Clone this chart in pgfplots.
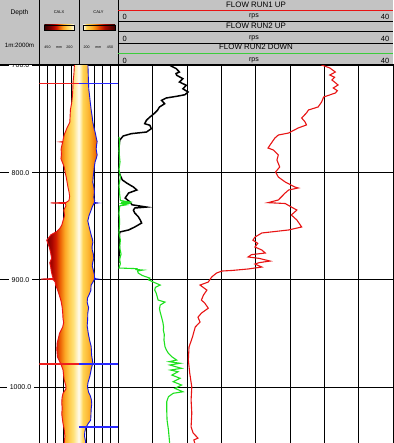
\documentclass[border=0pt]{standalone}
\usepackage{fontspec}
\setmainfont{Liberation Sans}
\usepackage{pgfplots}
\pgfplotsset{compat=1.18}
\usepackage{pgfplotstable}

\definecolor{hdr}{RGB}{195,195,195}
\definecolor{cred}{RGB}{232,20,20}
\definecolor{mred}{RGB}{240,30,30}
\definecolor{mblue}{RGB}{40,40,255}
\definecolor{cgreen}{RGB}{30,225,30}
\definecolor{hgreen}{RGB}{60,205,60}
\definecolor{cblue}{RGB}{20,20,220}
% CALX colour scale
\definecolor{x0}{RGB}{50,0,0}
\definecolor{x1}{RGB}{120,0,0}
\definecolor{x2}{RGB}{170,5,0}
\definecolor{x3}{RGB}{210,30,0}
\definecolor{x4}{RGB}{235,95,5}
\definecolor{x5}{RGB}{252,165,35}
\definecolor{x6}{RGB}{255,205,80}
\definecolor{x7}{RGB}{255,225,120}
\definecolor{x8}{RGB}{255,240,190}
\definecolor{x9}{RGB}{255,250,235}
% CALY colour scale
\definecolor{y0}{RGB}{255,250,235}
\definecolor{y1}{RGB}{255,235,170}
\definecolor{y2}{RGB}{255,212,85}
\definecolor{y3}{RGB}{253,190,60}
\definecolor{y4}{RGB}{250,165,30}
\definecolor{y5}{RGB}{240,120,10}
\definecolor{y6}{RGB}{220,60,0}
\definecolor{y7}{RGB}{170,10,0}
\definecolor{y8}{RGB}{60,0,0}

\pgfdeclarehorizontalshading{calxsh}{100bp}{color(0bp)=(x0); color(25bp)=(x0); color(35bp)=(x1); color(41bp)=(x2); color(46bp)=(x3); color(51bp)=(x4); color(57bp)=(x5); color(63bp)=(x6); color(68bp)=(x7); color(72bp)=(x8); color(75bp)=(x9); color(100bp)=(x9)}
\pgfdeclarehorizontalshading{calysh}{100bp}{color(0bp)=(y0); color(25bp)=(y0); color(27.4bp)=(y1); color(30bp)=(y2); color(35bp)=(y3); color(40bp)=(y4); color(45bp)=(y5); color(51bp)=(y6); color(59bp)=(y7); color(75bp)=(y8); color(100bp)=(y8)}

\pgfplotstableread{
depth calx
696.0 227
700 228
708 231
715 236
722 238
728 240
735 245
741 253
747 255
753 257
758 274
762 285
764 291
768 298
771.0 301
771.3 318
771.6 302
775 308
778 312
783 310
787 313
791 302
795 292
799.4 287
804 280
809 274
814 268
818 262
822 258
826 262
827.8 280
828.3 378
828.8 285
831 282
835 295
840 290
845 300
849 308
852 320
855 340
858 377
861 392
863 403
866 396
870 386
875 378
880 372
884 384
888 378
892 374
896 368
898.8 362
899.3 440
899.8 362
902 350
905 346
910 333
915 322
920 312
926 305
931 302
936 300
940 296
944 302
950 322
955 330
959 337
965 339
972 335
976 322
980 310
984 300
988 297
993 293
999 282
1002 282
1006 300
1010 306
1015 308
1020 305
1025 308
1030 304
1034 300
1040 292
1046 288
1052 292
1056 292
}\calx

\pgfplotstableread{
depth caly
696.0 257
705 259
715 261
722 263
728 268
735 273
741 278
747 284
753 289
758 296
762 303
767 310
771 316
775 312
778 310
783.5 316
787 310
790 303
795 298
799.4 295
804 291
809 289
814 296
818 299
823 295
826 300
827.8 298
828.3 322
828.8 296
832 285
835 278
840 265
845 257
849 263
852 268
858 278
862 286
865 289
869 284
872 285
876 292
880 295
884 288
887 285
891 292
895 299
898.8 300
899.3 322
899.8 298
902 290
905 278
910 276
914 265
917 255
921 253
926 262
931 257
937 256
943 253
950 260
956 268
962 278
966 280
970 281
974 285
977.7 289
981 283
984 278
990 270
996 258
1000 255
1005 262
1008 272
1012 280
1016 282
1021 278
1026 277
1031 275
1034 260
1038 245
1042 238
1046 236
1050 242
1056 246
}\caly

\pgfplotstableread{
depth rps
697.0 29.0
699.5 29.6
702.3 30.8
706.1 31.6
708.9 30.8
711.0 31.5
713.5 31.1
716.0 31.6
718.2 32.0
721.0 31.3
723.5 31.9
725.7 31.6
729.4 29.9
734.1 29.6
738.7 29.1
741.5 27.7
744.3 27.4
749.0 26.7
752.7 27.2
755.5 27.4
758.3 26.2
763.0 24.8
764.9 23.3
767.7 22.8
772.3 22.3
777.0 21.8
778.9 22.6
783.5 23.3
788.2 23.1
794.7 23.5
799.4 22.9
804.1 23.3
808.7 24.3
813.4 25.7
814.3 26.2
816.2 24.8
819.0 24.3
825.5 23.3
828.0 21.8
828.8 24.3
832.1 25.2
834.9 26.0
839.5 25.2
844.2 26.0
850.7 26.7
853.5 24.8
856.3 20.9
860.1 19.9
863.0 19.6
866.0 20.3
869.4 19.9
872.2 20.9
875.0 21.4
876.5 19.4
878.7 18.9
880.0 20.5
882.5 22.1
884.0 20.5
885.3 19.9
888.1 20.9
889.9 18.9
891.3 16.5
891.8 15.1
893.7 14.3
897.4 13.6
902.1 13.1
904.9 11.9
909.6 12.9
914.3 12.4
918.9 12.1
921.8 12.6
926.5 13.1
931.1 12.1
934.9 11.6
939.4 11.9
944.1 11.2
953.4 10.8
962.7 10.3
974.9 10.2
987.0 10.4
1000.0 10.7
1012.2 10.6
1024.3 10.7
1037.4 10.6
1043.0 10.9
1047.7 11.6
1049.5 11.0
1054.0 11.2
}\runone

\pgfplotstableread{
depth rps
697.5 7.0
699.8 7.5
703.0 8.45
706.1 8.9
707.5 8.4
709.1 8.5
712.3 9.4
715.4 8.9
718.5 9.9
721.7 9.4
724.7 10.15
727.3 9.7
728.8 8.45
730.3 7.0
732.5 6.3
735.7 6.75
738.7 6.0
741.8 5.7
745.0 5.2
748.1 4.6
751.1 4.1
754.3 3.85
755.8 4.6
759.0 4.8
762.1 4.1
763.6 1.9
765.8 0.7
769.8 0.2
776.0 0.1
785.0 0.05
797.5 0.0
803.0 0.3
806.9 0.6
810.0 1.3
813.4 2.2
816.2 2.7
819.0 1.5
823.7 1.0
827.4 1.7
830.0 2.0
832.1 4.1
833.0 2.4
835.0 2.2
837.7 2.4
841.0 2.9
844.2 3.2
847.0 3.4
850.7 2.4
853.5 1.5
855.4 0.2
862.9 0.1
870.0 0.15
878.0 0.1
884.3 0.1
}\runtwoup

\pgfplotstableread{
depth rps
766.7 0.1
772.0 0.2
780.0 0.1
790.0 0.25
797.0 0.1
804.0 0.3
812.0 0.1
820.0 0.2
826.0 0.3
827.2 1.5
827.8 0.4
828.4 1.9
829.0 0.5
830.0 1.2
831.0 0.2
838.0 0.1
845.0 0.2
856.0 0.1
863.0 0.3
870.0 0.2
876.0 0.4
881.0 0.2
885.0 0.3
889.0 0.1
889.6 2.7
890.4 2.6
890.9 3.6
891.8 2.8
893.7 2.9
896.0 3.5
898.4 4.6
900.0 4.4
902.1 5.1
904.9 6.1
907.0 5.4
909.6 5.3
912.0 5.5
914.3 5.6
918.9 5.8
920.8 6.8
923.6 6.1
927.0 6.0
930.2 6.1
934.9 6.3
940.0 6.5
944.1 6.6
946.8 6.55
951.0 6.7
956.2 6.65
962.4 6.8
965.5 7.0
968.6 7.3
971.8 7.8
974.9 8.5
976.4 7.4
977.9 9.0
979.5 7.5
982.6 9.2
984.2 7.6
985.8 8.7
988.9 7.8
991.9 9.0
995.1 8.0
998.2 9.2
1001.3 8.25
1004.5 9.4
1005.9 8.0
1009.1 7.3
1013.8 7.05
1021.5 7.05
1030.9 7.1
1040.0 7.3
1047.0 7.4
1054.0 7.5
}\runtwodown

\pgfplotsset{logtrack/.style={anchor=south west, scale only axis,
  height=379pt, ymin=698.6, ymax=1052.3, y dir=reverse,
  major tick length=0pt, grid style={black, line width=0.7pt}}}

\begin{document}
\begin{tikzpicture}
\useasboundingbox (0pt,0pt) rectangle (393pt,443pt);
\fill[white] (0pt,0pt) rectangle (393pt,443pt);

% depth track
\begin{axis}[logtrack, at={(0pt,0pt)}, width=39.3pt,
  xmin=0, xmax=1,
  axis line style={draw=none}, xtick=\empty,
  ytick={700,800,900,1000}, ymajorgrids,
  yticklabel style={font=\fontsize{7}{8}\selectfont, fill=white,
    inner xsep=2.5pt, inner ysep=1pt, anchor=center, xshift=20.5pt,
    /pgf/number format/fixed, /pgf/number format/fixed zerofill,
    /pgf/number format/precision=1, /pgf/number format/1000 sep={},
    /pgf/number format/assume math mode=true}]
\addplot[draw=none] coordinates {(0.5,700)};
\end{axis}

% caliper tracks
\begin{axis}[logtrack, at={(39.3pt,0pt)}, width=79pt,
  xmin=-250, xmax=250,
  xtick={-250,-200,...,250}, ytick={700,800,900,1000},
  xticklabels={}, yticklabels={}, grid=major,
  axis line style={black, line width=0.8pt}]
\addplot[draw=none, shade, shading=calxsh] table[x expr={200-\thisrow{calx}}, y=depth] {\calx}
  -- (axis cs:0,1060) -- (axis cs:0,690) -- (axis cs:-250,690) -- cycle;
\addplot[draw=none, shade, shading=calysh] table[x expr={\thisrow{caly}-200}, y=depth] {\caly}
  -- (axis cs:0,1060) -- (axis cs:0,690) -- (axis cs:250,690) -- cycle;
\addplot[cred, line width=0.9pt] table[x expr={200-\thisrow{calx}}, y=depth] {\calx};
\addplot[cblue, line width=0.9pt] table[x expr={\thisrow{caly}-200}, y=depth] {\caly};
\addplot[mred, line width=1.4pt] coordinates {(-250,717.0) (0,717.0)};
\addplot[mblue, line width=1.4pt] coordinates {(0,717.0) (250,717.0)};
\addplot[mred, line width=1.4pt] coordinates {(-250,978.6) (0,978.6)};
\addplot[mblue, line width=1.4pt] coordinates {(0,978.6) (250,978.6)};
\addplot[mblue, line width=1.4pt] coordinates {(0,1037.4) (250,1037.4)};
\end{axis}

% flow track
\begin{axis}[logtrack, at={(118.3pt,0pt)}, width=274.7pt,
  xmin=0, xmax=40,
  xtick={0,5,...,40}, ytick={700,800,900,1000},
  xticklabels={}, yticklabels={}, grid=major,
  axis line style={black, line width=0.8pt}]
\addplot[cred, line width=1.1pt] table[x=rps, y=depth] {\runone};
\addplot[black, line width=1.5pt] table[x=rps, y=depth] {\runtwoup};
\addplot[cgreen, line width=1.1pt] table[x=rps, y=depth] {\runtwodown};
\end{axis}

% header
\begin{scope}[x=1pt,y=1pt]
\fill[hdr] (0,379) rectangle (393,443);
\draw[black, line width=0.7pt] (0,379) -- (393,379);
\draw[black, line width=0.7pt] (39.3,379) -- (39.3,443);
\draw[black, line width=0.7pt] (79,379) -- (79,443);
\draw[black, line width=0.7pt] (118.3,379) -- (118.3,443);
\draw[black, line width=0.7pt] (118.3,421.7) -- (393,421.7);
\draw[black, line width=0.7pt] (118.3,399.7) -- (393,399.7);

\node[font=\fontsize{6.7}{8}\selectfont] at (19.5,430) {Depth};
\node[font=\fontsize{6.2}{8}\selectfont] at (19.5,398) {1m:2000m};

\node[font=\fontsize{4}{5}\selectfont] at (59,431) {CALX};
\shade[shading=calxsh] (44.3,413) rectangle (74,418);
\draw[black, line width=0.4pt] (44.3,413) rectangle (74,418);
\node[font=\fontsize{3.6}{4}\selectfont] at (47.5,395.5) {450};
\node[font=\fontsize{3.6}{4}\selectfont] at (59,395.5) {mm};
\node[font=\fontsize{3.6}{4}\selectfont] at (69.5,395.5) {200};

\node[font=\fontsize{4}{5}\selectfont] at (98.5,431) {CALY};
\shade[shading=calysh] (83.3,413) rectangle (115,418);
\draw[black, line width=0.4pt] (83.3,413) rectangle (115,418);
\node[font=\fontsize{3.6}{4}\selectfont] at (86.7,395.5) {200};
\node[font=\fontsize{3.6}{4}\selectfont] at (98.3,395.5) {mm};
\node[font=\fontsize{3.6}{4}\selectfont] at (110,395.5) {450};

\node[font=\fontsize{7.9}{9}\selectfont] at (256,438.5) {FLOW RUN1 UP};
\draw[cred, line width=1.5pt] (118.3,432.3) -- (393,432.3);
\node[font=\fontsize{7.5}{9}\selectfont] at (124.8,426.5) {0};
\node[font=\fontsize{7}{9}\selectfont] at (254,426.5) {rps};
\node[font=\fontsize{7.5}{9}\selectfont, anchor=east, inner sep=0pt] at (389.5,426.5) {40};

\node[font=\fontsize{7.9}{9}\selectfont] at (256,417.5) {FLOW RUN2 UP};
\draw[black, line width=1.5pt] (118.3,411.3) -- (393,411.3);
\node[font=\fontsize{7.5}{9}\selectfont] at (124.8,404.5) {0};
\node[font=\fontsize{7}{9}\selectfont] at (254,404.5) {rps};
\node[font=\fontsize{7.5}{9}\selectfont, anchor=east, inner sep=0pt] at (389.5,404.5) {40};

\node[font=\fontsize{7.9}{9}\selectfont] at (256,395.8) {FLOW RUN2 DOWN};
\draw[hgreen, line width=1.5pt] (118.3,389.7) -- (393,389.7);
\node[font=\fontsize{7.5}{9}\selectfont] at (124.8,382.2) {0};
\node[font=\fontsize{7}{9}\selectfont] at (254,382.2) {rps};
\node[font=\fontsize{7.5}{9}\selectfont, anchor=east, inner sep=0pt] at (389.5,382.2) {40};
\end{scope}
\end{tikzpicture}
\end{document}
